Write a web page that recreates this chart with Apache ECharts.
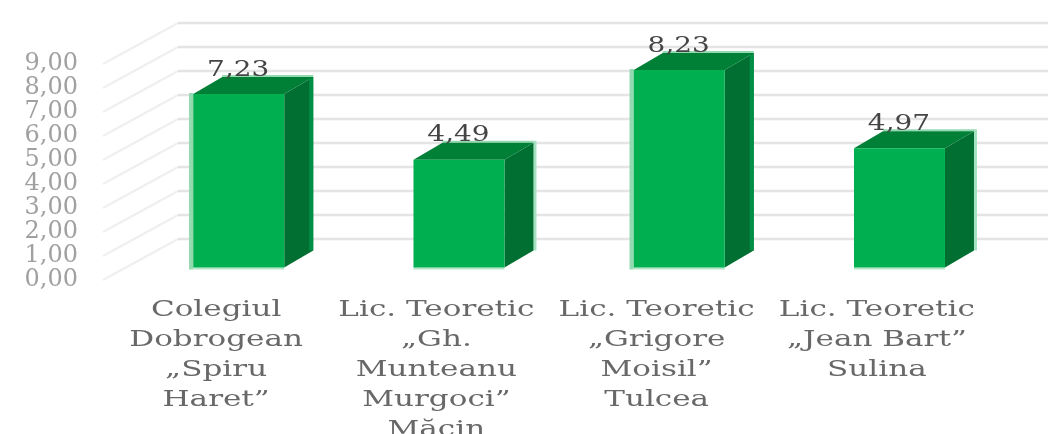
<!DOCTYPE html>
<html>
<head>
<meta charset="utf-8">
<style>html,body{margin:0;padding:0;background:#fff}#c{width:1048px;height:434px;overflow:hidden}</style>
<script src="https://cdn.jsdelivr.net/npm/echarts@6/dist/echarts.min.js"></script>
</head>
<body>
<div id="c"></div>
<script>
var categories = [
  "Colegiul\nDobrogean\n„Spiru\nHaret”",
  "Lic. Teoretic\n„Gh.\nMunteanu\nMurgoci”\nMăcin",
  "Lic. Teoretic\n„Grigore\nMoisil”\nTulcea",
  "Lic. Teoretic\n„Jean Bart”\nSulina"
];
var values = [7.23, 4.49, 8.23, 4.97];
var valueLabels = ["7,23", "4,49", "8,23", "4,97"];
var ticks = [0, 1, 2, 3, 4, 5, 6, 7, 8, 9];
var tickLabels = ["0,00", "1,00", "2,00", "3,00", "4,00", "5,00", "6,00", "7,00", "8,00", "9,00"];

var serif = '"DejaVu Serif"';
var chart = echarts.init(document.getElementById('c'), null, {renderer: 'canvas'});

function wall(params, api) {
  var p = api.coord([0, api.value(0)]);
  var x0 = params.coordSys.x - 3, y0 = p[1], x1 = x0 + 75, y1 = y0 - 41;
  return {type: 'group', children: [
    {type: 'line', shape: {x1: x0, y1: y0, x2: x1, y2: y1}, style: {stroke: '#efefef', lineWidth: 2}},
    {type: 'line', shape: {x1: x1, y1: y1, x2: api.getWidth(), y2: y1}, style: {stroke: '#e4e4e4', lineWidth: 2.4}}
  ]};
}

function bar(params, api) {
  var i = params.dataIndex;
  var base = api.coord([i, 0]), top = api.coord([i, api.value(1)]);
  var fx = 22.6, fy = -12.5, half = 45.5, dx = 29, dy = -17;
  var l = base[0] + fx - half, r = base[0] + fx + half;
  var b = base[1] + fy, t = top[1] + fy;
  var poly = function (pts, c) { return {type: 'polygon', shape: {points: pts}, style: {fill: c}}; };
  var edge = '#93dab0';
  var kids = [];
  if (i % 2 === 0) {
    kids.push({type: 'rect', shape: {x: l - 4.2, y: t - 1, width: 4.2, height: b - t + 3}, style: {fill: edge}});
  } else {
    kids.push({type: 'rect', shape: {x: r + dx, y: t + dy - 2, width: 3, height: b - t + 2}, style: {fill: '#a6e1c0'}});
  }
  kids.push({type: 'rect', shape: {x: l, y: b, width: r - l, height: 2}, style: {fill: '#b3e6c8'}});
  kids.push({type: 'rect', shape: {x: l + dx, y: t + dy - 2, width: r - l, height: 2}, style: {fill: edge}});
  kids.push(poly([[r, t], [r + dx, t + dy], [r + dx, b + dy], [r, b]], '#006f31'));
  if (i % 2 === 0) {
    kids.push({type: 'rect', shape: {x: r + dx - 4, y: t + dy, width: 4, height: b - t}, style: {fill: '#009045'}});
  }
  kids.push(poly([[l, t], [l + dx, t + dy], [r + dx, t + dy], [r, t]], '#007f37'));
  kids.push({type: 'rect', shape: {x: l, y: t, width: r - l, height: b - t}, style: {fill: '#00b050'}});
  kids.push({type: 'text', x: base[0] + fx - 0.5, y: t - 24, scaleX: 1.27, style: {
    text: valueLabels[i], x: 0, y: 0,
    align: 'center', verticalAlign: 'middle',
    font: '22px ' + serif, fill: '#454545'
  }, z2: 10});
  return {type: 'group', children: kids};
}

function catLabel(params, api) {
  var i = params.dataIndex;
  var p = api.coord([i, 0]);
  return {type: 'text', x: p[0], y: p[1] + 15, scaleX: 1.35, style: {
    text: categories[i], x: 0, y: 0, align: 'center', verticalAlign: 'top',
    font: '23px ' + serif, lineHeight: 30, fill: '#686868'
  }};
}

chart.setOption({
  animation: false,
  grid: {left: 106, top: 64, width: 881, height: 216, outerBoundsMode: 'none'},
  xAxis: {
    type: 'category', data: categories,
    axisLine: {show: false}, axisTick: {show: false}, splitLine: {show: false},
    axisLabel: {show: false}
  },
  yAxis: {
    type: 'value', min: 0, max: 9, interval: 1,
    axisLine: {show: false}, axisTick: {show: false}, splitLine: {show: false},
    axisLabel: {margin: 28, color: '#a0a0a0', fontFamily: serif, fontSize: 24, padding: [4, 0, 0, 0], formatter: function (v) { return tickLabels[ticks.indexOf(v)]; }}
  },
  series: [
    {type: 'custom', name: 'wall', coordinateSystem: 'cartesian2d', clip: false, silent: true, z: 1,
     data: ticks.map(function (v) { return [v]; }), encode: {y: 0}, renderItem: wall},
    {type: 'custom', name: 'bars', coordinateSystem: 'cartesian2d', clip: false, z: 2,
     data: values.map(function (v, i) { return [i, v]; }), encode: {x: 0, y: 1}, renderItem: bar},
    {type: 'custom', name: 'categoryLabels', coordinateSystem: 'cartesian2d', clip: false, silent: true, z: 3,
     data: categories.map(function (c, i) { return [i, 0]; }), encode: {x: 0, y: 1}, renderItem: catLabel}
  ]
});
</script>
</body>
</html>
